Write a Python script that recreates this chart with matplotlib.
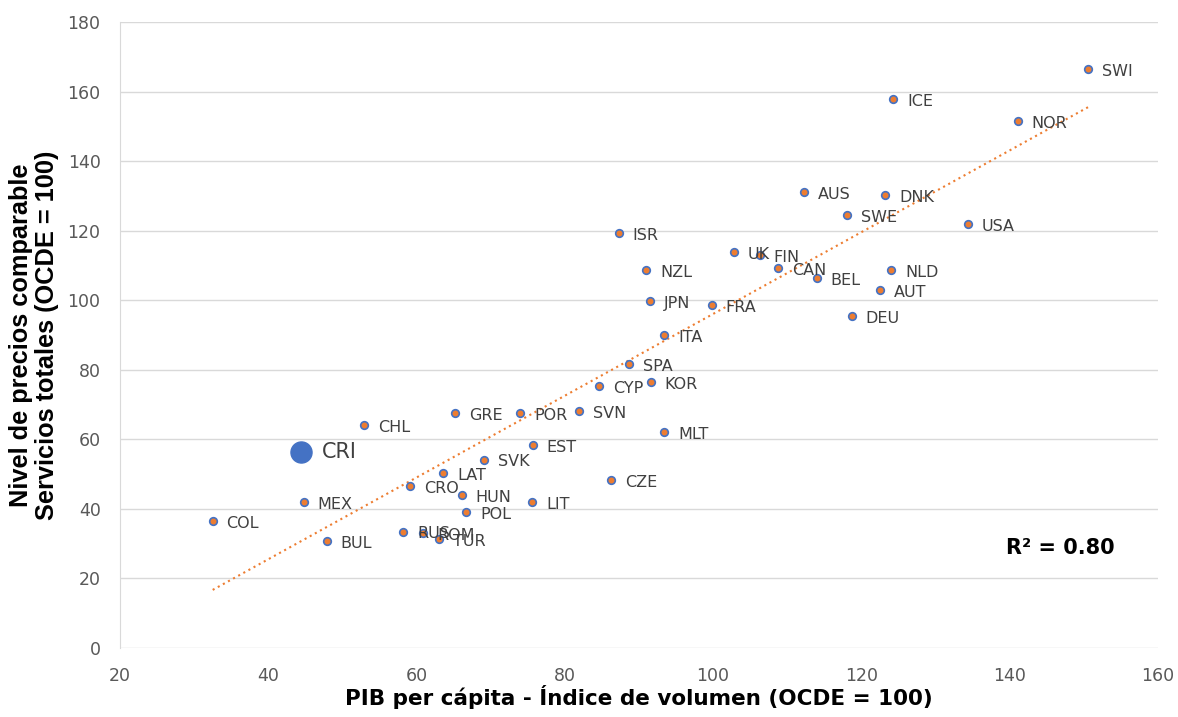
import numpy as np
import matplotlib
matplotlib.use("Agg")
import matplotlib.pyplot as plt

# OECD countries: GDP per capita volume index vs. comparable price level (total services)
countries = ["SWI", "ICE", "NOR", "AUS", "DNK", "SWE", "USA", "ISR", "UK", "FIN",
             "CAN", "BEL", "NLD", "AUT", "NZL", "JPN", "FRA", "DEU", "ITA", "SPA",
             "CYP", "KOR", "GRE", "POR", "SVN", "CHL", "MLT", "EST", "SVK", "LAT",
             "CZE", "CRO", "HUN", "LIT", "MEX", "POL", "COL", "RUS", "ROM", "TUR", "BUL"]
gdp = [150.6, 124.3, 141.1, 112.3, 123.2, 118.1, 134.4, 87.3, 102.8, 106.3,
       108.8, 114.0, 124.0, 122.5, 91.0, 91.5, 99.8, 118.7, 93.4, 88.7,
       84.6, 91.6, 65.2, 74.0, 81.9, 52.9, 93.4, 75.7, 69.1, 63.6,
       86.2, 59.1, 66.1, 75.6, 44.8, 66.7, 32.5, 58.2, 60.9, 63.0, 47.9]
price = [166.5, 157.8, 151.5, 131.1, 130.2, 124.5, 121.9, 119.3, 113.9, 113.0,
         109.3, 106.4, 108.7, 102.9, 108.7, 99.8, 98.6, 95.5, 90.0, 81.7,
         75.3, 76.5, 67.6, 67.6, 68.1, 64.1, 62.1, 58.4, 54.1, 50.3,
         48.3, 46.6, 44.0, 42.0, 42.0, 39.1, 36.5, 33.4, 33.1, 31.3, 30.8]

# Costa Rica highlighted
cri_gdp = 44.4
cri_price = 56.4

orange = "#ED7D31"
blue = "#4472C4"
label_grey = "#404040"

fig = plt.figure(figsize=(11.78, 7.17), dpi=100)
ax = fig.add_axes([0.1019, 0.0962, 0.881, 0.873])

ax.scatter(gdp, price, s=30, color=orange, edgecolors=blue, linewidths=1.2, zorder=3)
ax.scatter([cri_gdp], [cri_price], s=230, color=blue, zorder=3)

for name, x, y in zip(countries, gdp, price):
    ax.annotate(name, (x, y), xytext=(10, -1.5), textcoords="offset points",
                ha="left", va="center", fontsize=11.5, color=label_grey,
                family="DejaVu Sans", zorder=4)
ax.annotate("CRI", (cri_gdp, cri_price), xytext=(15, 0), textcoords="offset points",
            ha="left", va="center", fontsize=15, color=label_grey,
            family="DejaVu Sans", zorder=4)

# linear trend over all countries (incl. CRI)
all_x = gdp + [cri_gdp]
all_y = price + [cri_price]
slope, intercept = np.polyfit(all_x, all_y, 1)
xs = np.array([min(gdp), max(gdp)])
ax.plot(xs, slope * xs + intercept, color=orange, linestyle=(0, (1, 1.8)),
        linewidth=1.5, zorder=2)

ax.text(0.9586, 0.16, "R² = 0.80", transform=ax.transAxes, ha="right", va="center",
        fontsize=15, fontweight="bold", family="DejaVu Sans", color="black")

ax.set_xlim(20, 160)
ax.set_ylim(0, 180)
ax.set_xticks(np.arange(20, 161, 20))
ax.set_yticks(np.arange(0, 181, 20))
ax.grid(axis="y", color="#D9D9D9", linewidth=1)
ax.set_axisbelow(True)
for side in ["top", "right", "bottom"]:
    ax.spines[side].set_visible(False)
ax.spines["left"].set_color("#D9D9D9")
ax.tick_params(length=0, labelsize=12.5, labelcolor="#595959", pad=14)
for lab in ax.get_xticklabels() + ax.get_yticklabels():
    lab.set_family("DejaVu Sans")

ax.set_xlabel("PIB per cápita - Índice de volumen (OCDE = 100)", fontsize=15.5,
              fontweight="bold", family="DejaVu Sans", labelpad=0)
ax.set_ylabel("Nivel de precios comparable\nServicios totales (OCDE = 100)", fontsize=18.3,
              fontweight="bold", family="Liberation Sans", labelpad=6, linespacing=1.12)

fig.savefig("out.png", dpi=100)
